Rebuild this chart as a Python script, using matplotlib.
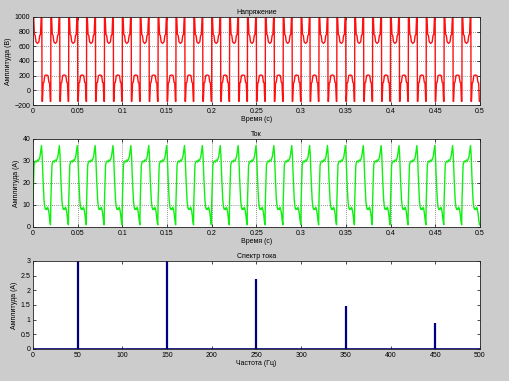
import numpy as np
import matplotlib
matplotlib.use('Agg')
import matplotlib.pyplot as plt
from matplotlib.ticker import FormatStrFormatter, MultipleLocator

# one period (0.02 s) of the voltage
v_t = [0.0, 0.0008, 0.0016, 0.0024, 0.0034, 0.005, 0.0066, 0.0076, 0.0084, 0.0092, 0.0099,
       0.0101, 0.0106, 0.0114, 0.0122, 0.0132, 0.015, 0.0168, 0.0178, 0.0186, 0.0194, 0.0199]
v_val = [1000, 1000, 760, 750, 660, 640, 660, 750, 760, 1000, 1000,
         -150, -150, 100, 110, 200, 210, 200, 110, 100, -150, -150]

# one period of the current
c_t = [0.0, 0.0012, 0.002, 0.003, 0.004, 0.005, 0.006, 0.007, 0.0078, 0.0088, 0.0095, 0.0102,
       0.0112, 0.0124, 0.0132, 0.014, 0.0148, 0.0156, 0.0164, 0.0172, 0.018, 0.0188, 0.0196]
c_val = [12, 28, 29.5, 30, 29.5, 30.5, 30, 31, 32, 35, 37, 33,
         22, 12, 9, 8, 8.5, 8, 9, 8, 6, 3, 1]

period = 0.02
n_periods = 25

# spectrum of the current
freqs = [50, 150, 250, 350, 450]
amps = [3.0, 3.0, 2.4, 1.45, 0.9]

titles = ['Напряжение', 'Ток', 'Спектр тока']
xlabels = ['Время (с)', 'Время (с)', 'Частота (Гц)']
ylabels = ['Амплитуда (В)', 'Амплитуда (А)', 'Амплитуда (А)']

def tile(t, y):
    tt = np.concatenate([np.asarray(t) + k * period for k in range(n_periods)])
    yy = np.tile(y, n_periods)
    return tt, yy

tv, yv = tile(v_t, v_val)
tc, yc = tile(c_t, c_val)

plt.rcParams['font.family'] = ['Liberation Sans', 'DejaVu Sans']
fs = 5

fig = plt.figure(figsize=(5.09, 3.81), dpi=100)
fig.patch.set_facecolor('#cccccc')

ax1 = fig.add_axes([0.0648, 0.7244, 0.878, 0.231])
ax2 = fig.add_axes([0.0648, 0.4042, 0.878, 0.231])
ax3 = fig.add_axes([0.0648, 0.084, 0.878, 0.231])

ax1.plot(tv, yv, color='#ff1010', lw=1.0)
ax1.set_xlim(0, 0.5)
ax1.set_ylim(-200, 1000)
ax1.yaxis.set_major_locator(MultipleLocator(200))

ax2.plot(tc, yc, color='#10f010', lw=1.0)
ax2.set_xlim(0, 0.5)
ax2.set_ylim(0, 40)
ax2.yaxis.set_major_locator(MultipleLocator(10))

for ax in (ax1, ax2):
    ax.xaxis.set_major_locator(MultipleLocator(0.05))
    ax.xaxis.set_major_formatter(FormatStrFormatter('%g'))
    ax.grid(True, color='#333333', linestyle=(0, (1, 2)), linewidth=0.5)

ax3.vlines(freqs, 0, amps, color='#000080', lw=1.6)
ax3.plot([0, 500], [0, 0], color='#000080', lw=1.2)
ax3.set_xlim(0, 500)
ax3.set_ylim(0, 3)
ax3.xaxis.set_major_locator(MultipleLocator(50))
ax3.yaxis.set_major_locator(MultipleLocator(0.5))
ax3.yaxis.set_major_formatter(FormatStrFormatter('%g'))

for ax, ttl, xl, yl in zip((ax1, ax2, ax3), titles, xlabels, ylabels):
    ax.set_facecolor('white')
    ax.set_title(ttl, fontsize=fs, pad=2)
    ax.set_xlabel(xl, fontsize=fs, labelpad=1)
    ax.set_ylabel(yl, fontsize=fs, labelpad=2)
    ax.tick_params(direction='in', length=2.5, width=0.5, labelsize=fs, pad=2,
                   top=True, right=True)
    for s in ax.spines.values():
        s.set_linewidth(0.6)
        s.set_color('#222222')

fig.savefig('out.png', dpi=100, facecolor=fig.get_facecolor())
